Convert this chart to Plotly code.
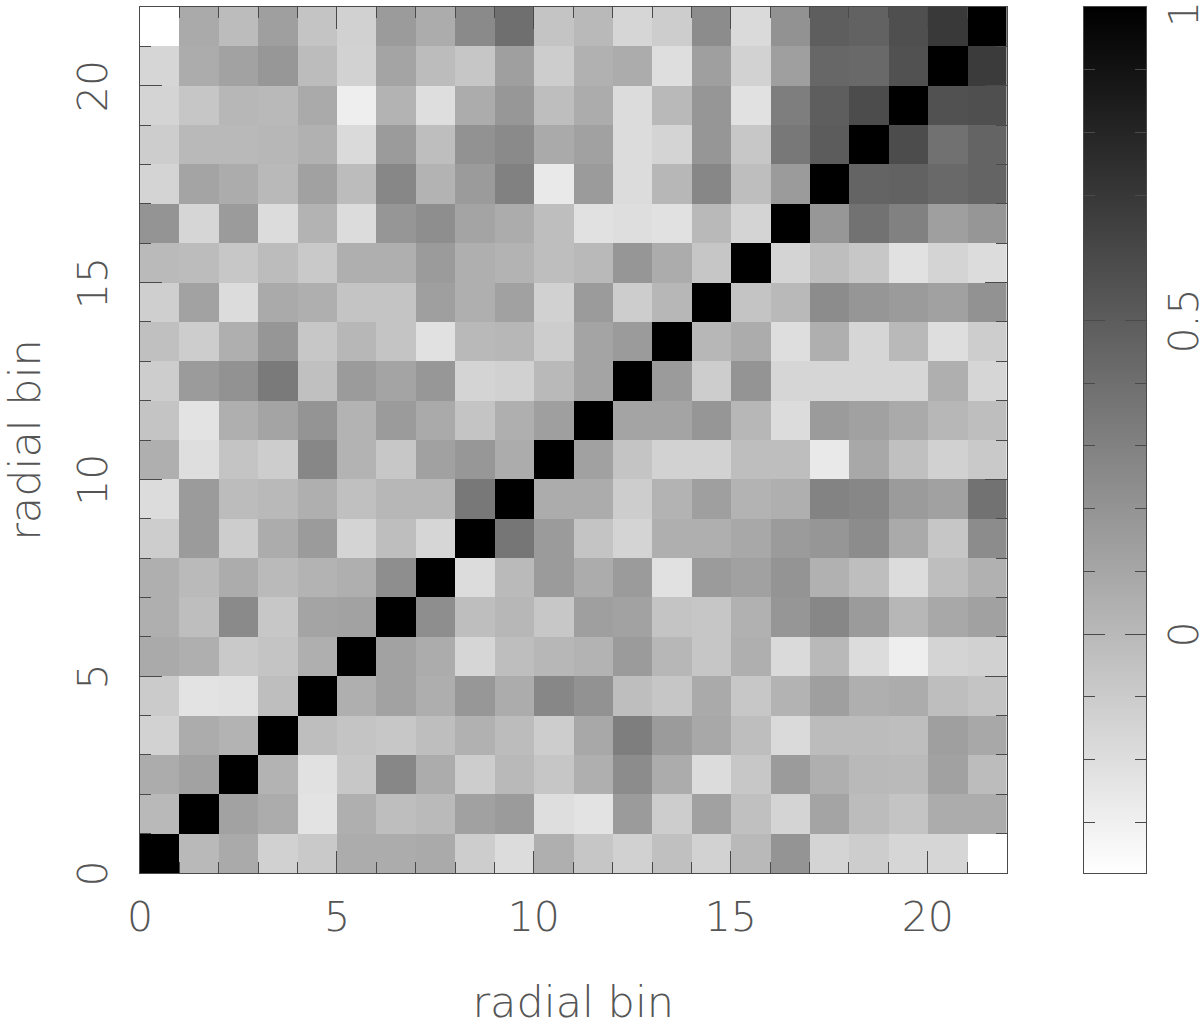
import numpy as np
import plotly.graph_objects as go

# Radial-bin correlation matrix, row 0 = bottom of the picture
BIN_CENTRES = [i + 0.5 for i in range(22)]
CORRELATION = [
    [1, 0.00, .08, -.13, -.09, .07, .07, .08, -.11, -.19, .05, -.07, -.13, -.04, -.14, 0, .20, -.15, -.11, -.16, -.16, -.38],
    [0, 1, .12, .07, -.23, .05, -.03, -.01, .13, .16, -.20, -.23, .16, -.11, .13, -.04, -.15, .11, -.02, -.06, .07, .07],
    [.07, .12, 1, .03, -.22, -.08, .27, .07, -.11, 0, -.07, .05, .24, .07, -.19, -.08, .16, .05, 0, -.01, .13, -.02],
    [-.14, .07, .03, 1, -.03, -.06, -.08, -.03, .04, -.02, -.11, .09, .32, .16, .09, -.03, -.18, -.02, -.02, -.03, .14, .09],
    [-.10, -.23, -.22, -.03, 1, .05, .12, .06, .18, .07, .27, .21, -.03, -.07, .08, -.08, .03, .14, .05, .07, -.03, -.06],
    [.08, .05, -.09, -.06, .05, 1, .12, .07, -.16, -.03, .01, .03, .16, .01, -.07, .05, -.18, 0, -.19, -.29, -.15, -.13],
    [.05, -.03, .25, -.08, .11, .12, 1, .23, -.03, .01, -.08, .14, .12, -.06, -.07, .04, .19, .27, .16, .01, .09, .13],
    [.05, -.01, .07, -.01, .03, .05, .23, 1, -.19, -.01, .16, .07, .16, -.22, .16, .13, .20, .04, -.03, -.19, -.03, .04],
    [-.11, .16, -.11, .07, .16, -.15, -.03, -.16, 1, .36, .16, -.06, -.15, .05, .05, .09, .16, .19, .24, .08, -.07, .24],
    [-.19, .16, -.02, 0, .05, -.04, .01, .01, .35, 1, .07, .07, -.11, .03, .14, .03, .05, .29, .27, .16, .13, .38],
    [.05, -.20, -.06, -.11, .27, .03, -.08, .13, .18, .07, 1, .13, -.06, -.14, -.14, -.03, -.03, -.26, .09, -.04, -.13, -.09],
    [-.06, -.23, .05, .11, .20, .03, .16, .08, -.06, .05, .14, 1, .11, .11, .19, .01, -.19, .16, .13, .08, .01, -.03],
    [-.11, .16, .21, .34, -.04, .16, .11, .18, -.15, -.13, 0, .11, 1, .16, -.11, .20, -.16, -.16, -.16, -.16, .05, -.16],
    [-.04, -.11, .05, .19, -.08, .01, -.06, -.22, 0, .01, -.11, .11, .16, 1, .01, .07, -.20, .05, -.16, 0, -.20, -.11],
    [-.12, .12, -.19, .08, .05, -.06, -.06, .14, .05, .13, -.13, .16, -.11, .01, 1, -.06, 0, .24, .19, .16, .13, .21],
    [-.01, -.02, -.08, -.02, -.09, .05, .05, .16, .05, .03, -.03, 0, .19, .07, -.07, 1, -.15, -.03, -.08, -.22, -.15, -.19],
    [.20, -.16, .16, -.19, .03, -.19, .19, .23, .11, .07, -.03, -.22, -.20, -.22, 0, -.15, 1, .18, .38, .30, .14, .19],
    [-.15, .11, .07, 0, .13, -.02, .27, .03, .16, .30, -.26, .16, -.19, .01, .27, -.03, .16, 1, .46, .47, .43, .46],
    [-.11, 0, 0, .01, .04, -.18, .16, -.03, .21, .25, .08, .13, -.19, -.15, .19, -.08, .35, .50, 1, .59, .39, .46],
    [-.15, -.07, .01, 0, .08, -.29, .03, -.20, .07, .18, -.03, .07, -.19, 0, .19, -.22, .32, .49, .59, 1, .56, .57],
    [-.16, .07, .12, .18, -.02, -.14, .11, -.02, -.07, .14, -.11, .04, .07, -.20, .14, -.14, .14, .44, .43, .56, 1, .68],
    [-.38, .08, -.02, .14, -.06, -.13, .16, .07, .25, .40, -.06, 0, -.16, -.11, .24, -.18, .21, .49, .47, .57, .69, 1],
]
SCALE_MIN = -0.381
SCALE_MAX = 1.0
SCALE_LEVELS = np.linspace(SCALE_MIN, SCALE_MAX, 256)
AXIS_TITLE = "radial bin"
BIN_TICKS = [0, 5, 10, 15, 20]
SCALE_TICKS = [0, 0.5, 1]
SCALE_TICK_TEXT = ["0", "0.5", "1"]

W, H = 1200, 1027
FONT = dict(family="DejaVu Sans", size=41, color="#555555", weight=200)
TITLE_FONT = dict(FONT, size=43)
INK = "#4a4a4a"
NB = "\u00a0"  # keeps rotated labels centred on their ticks


def px_x(v):
    return v / W


def px_y(v):
    return 1 - v / H


fig = go.Figure()
fig.add_trace(go.Heatmap(z=CORRELATION, x=BIN_CENTRES, y=BIN_CENTRES, coloraxis="coloraxis",
                         xaxis="x", yaxis="y", hovertemplate="%{x} %{y}: %{z}<extra></extra>"))
fig.add_trace(go.Heatmap(z=[[v] for v in SCALE_LEVELS], x=[0.5], y=SCALE_LEVELS, coloraxis="coloraxis",
                         xaxis="x2", yaxis="y2", hoverinfo="skip"))

bin_axis = dict(
    range=[0, 22], tickmode="array", tickvals=BIN_TICKS,
    ticks="inside", ticklen=22, tickwidth=1, tickcolor=INK,
    minor=dict(tickmode="linear", tick0=0, dtick=1, ticks="inside", ticklen=11, tickwidth=1, tickcolor=INK, showgrid=False),
    showline=True, linecolor=INK, linewidth=1, mirror="ticks", showgrid=False, zeroline=False,
    tickfont=FONT, automargin=False, ticklabeloverflow="allow",
)

fig.update_layout(
    width=W, height=H, margin=dict(l=0, r=0, t=0, b=0), paper_bgcolor="white", plot_bgcolor="white",
    autosize=False, showlegend=False,
    coloraxis=dict(colorscale=[[0, "#ffffff"], [1, "#000000"]], cmin=SCALE_MIN, cmax=SCALE_MAX, showscale=False),
    xaxis=dict(bin_axis, domain=[px_x(140), px_x(1006.5)], anchor="y", tickangle=0, ticklabelstandoff=8,
               ticktext=[str(t) for t in BIN_TICKS],
               title=dict(text=AXIS_TITLE, font=TITLE_FONT, standoff=63)),
    yaxis=dict(bin_axis, domain=[px_y(873), px_y(7)], anchor="x", tickangle=-90, ticklabelstandoff=16,
               ticktext=[str(t) + NB for t in BIN_TICKS],
               title=dict(text=AXIS_TITLE, font=TITLE_FONT, standoff=26)),
    xaxis2=dict(domain=[px_x(1083.5), px_x(1146)], anchor="y2", range=[0, 1], showticklabels=False, ticks="",
                showline=True, linecolor=INK, linewidth=1, mirror=True, showgrid=False, zeroline=False, automargin=False),
    yaxis2=dict(domain=[px_y(873), px_y(7)], anchor="x2", side="right", range=[SCALE_MIN, SCALE_MAX],
                tickmode="array", tickvals=SCALE_TICKS,
                ticktext=[SCALE_TICK_TEXT[0] + NB, SCALE_TICK_TEXT[1] + NB, SCALE_TICK_TEXT[2] + NB + NB],
                ticks="inside", ticklen=21, tickwidth=1, tickcolor=INK,
                minor=dict(tickmode="linear", tick0=0, dtick=0.1, ticks="inside", ticklen=11, tickwidth=1, tickcolor=INK, showgrid=False),
                showline=True, linecolor=INK, linewidth=1, mirror="ticks", showgrid=False, zeroline=False,
                tickangle=-90, tickfont=FONT, ticklabelstandoff=2, automargin=False, ticklabeloverflow="allow"),
)

fig.write_html("out.html", config=dict(displayModeBar=False), post_script="document.body.style.margin='0';")
